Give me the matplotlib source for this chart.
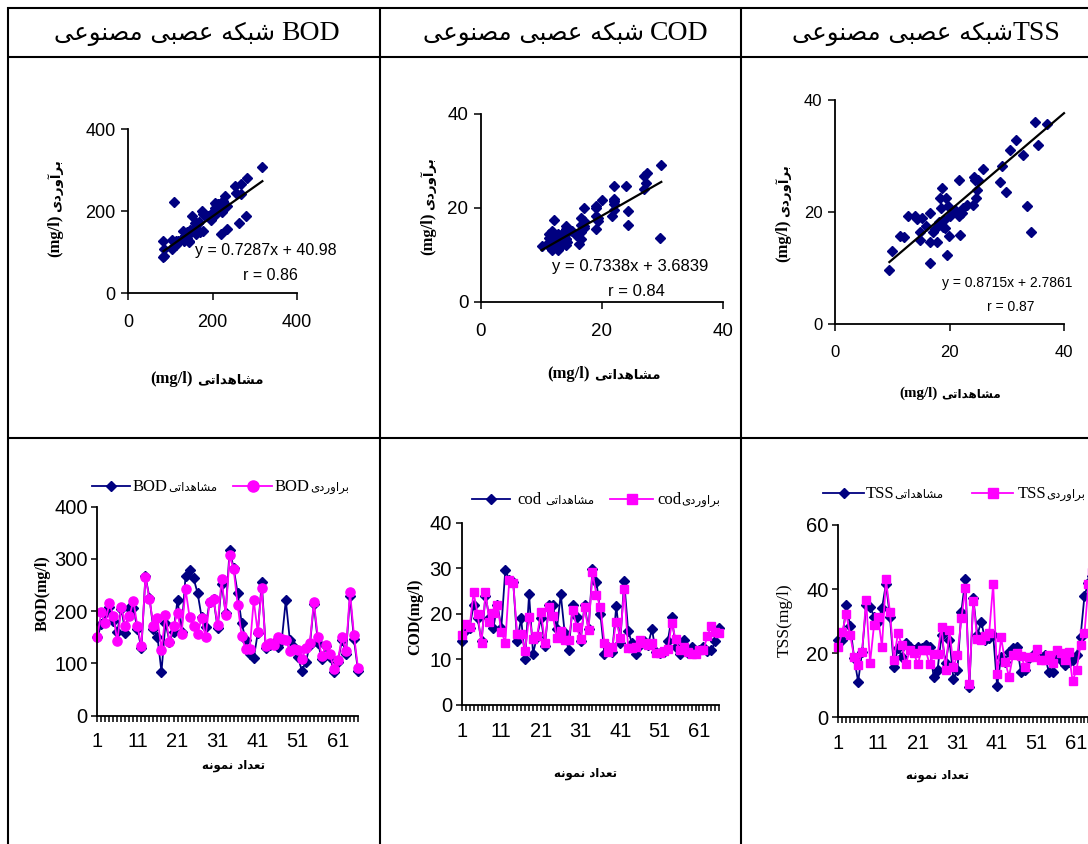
import numpy as np
import matplotlib
matplotlib.use('Agg')
import matplotlib.pyplot as plt
from matplotlib.lines import Line2D

# ---------------- data ----------------
samples = list(range(1, 67))

bod_obs = [150, 175, 197, 208, 181, 161, 205, 159, 207, 207,
           165, 129, 267, 226, 165, 151, 84, 178, 142, 161,
           222, 161, 267, 279, 263, 235, 189, 170, 218, 223,
           167, 253, 197, 318, 282, 234, 177, 145, 119, 110,
           158, 255, 129, 135, 140, 131, 145, 221, 145, 132,
           113, 86, 103, 135, 214, 140, 108, 133, 113, 84,
           103, 145, 119, 229, 146, 86]
bod_est = [151, 199, 177, 216, 190, 143, 208, 171, 190, 220,
           171, 134, 265, 224, 171, 187, 126, 193, 141, 171,
           197, 156, 242, 189, 171, 156, 187, 150, 218, 223,
           173, 262, 193, 307, 280, 212, 152, 127, 127, 221,
           160, 244, 133, 140, 135, 151, 146, 145, 124, 128,
           126, 108, 129, 140, 218, 150, 114, 135, 118, 89,
           107, 150, 124, 237, 154, 91]

cod_obs = [14, 16.5, 17, 22, 19, 14, 24, 19, 17, 22,
           17, 29.6, 27.5, 27, 14, 19, 10, 24.3, 11.3, 15,
           19, 13, 22, 22, 16.6, 24.3, 15.7, 12, 22, 19.4,
           14, 22, 16.6, 29.8, 27, 20, 11.3, 12.8, 11.7, 21.7,
           13.7, 27.2, 16.2, 13.5, 11.3, 13.2, 14, 13.2, 16.6, 11.7,
           11.5, 11.7, 14, 19.3, 12.8, 11.3, 14.2, 11.5, 12.8, 11.7,
           12, 12.8, 11.8, 12, 14, 17]
cod_est = [15.4, 17.8, 17.2, 24.7, 20, 13.5, 24.7, 18.3, 20.1, 22,
           16.1, 13.7, 27.4, 26.8, 15.5, 15.5, 11.9, 19.4, 14.4, 15.1,
           20.5, 13.7, 21.4, 19.5, 14.8, 16.3, 14.2, 14.2, 20.8, 17.2,
           14.4, 21.4, 16.4, 29.1, 24.1, 21.6, 13.7, 11.7, 12.8, 18.3,
           14.8, 25.4, 12.4, 12.4, 12.8, 14.2, 13.5, 13.2, 13.5, 11.5,
           11.5, 11.8, 12.2, 17.9, 14.4, 12, 12.8, 11.7, 11.1, 11.1,
           12, 12, 15.2, 17.4, 16.1, 15.7]

tss_obs = [24.1, 24.1, 35, 28.6, 18.4, 11.1, 20.5, 35, 34.5, 31.4,
           29.8, 34, 41.6, 31.4, 15.8, 21.5, 18.9, 23.1, 22, 21,
           22, 21.5, 22.6, 22, 12.7, 14.8, 25.7, 17, 24.1, 11.9,
           14.8, 33, 43.3, 9.4, 37.1, 25.7, 29.8, 24.1, 24.6, 25.7,
           9.8, 18.9, 17.4, 20.5, 21.5, 22, 14.2, 14.8, 18.4, 19.4,
           20, 18.4, 19.4, 14.2, 14.2, 18.9, 17.9, 16.3, 17.4, 17.9,
           19.5, 25, 38, 42, 44, 40]
tss_est = [21.8, 26.7, 32.2, 25.7, 18.7, 16.3, 20.5, 36.6, 17, 28.8,
           31.4, 22, 43, 33, 17.9, 26.2, 22.6, 16.5, 21, 20.2,
           16.5, 21, 21, 16.5, 19.8, 19.8, 28.3, 14.8, 27.2, 15.8,
           19.4, 30.9, 40.2, 10.4, 36.4, 24.3, 24.1, 25.5, 26.4, 41.6,
           13.5, 24.9, 17.4, 12.7, 19.4, 20.2, 19.1, 15.8, 18.9, 18.9,
           21.2, 17.9, 17.9, 19.4, 17, 21, 20.2, 17.9, 20.5, 11.4,
           14.8, 22.6, 26.2, 41.6, 45.4, 44]

tss_sc_obs = [9.5, 10, 11.4, 12, 12.8, 14, 14.3, 15.2, 14.9, 14.9,
              15.9, 16.6, 16.6, 16.6, 17.2, 17.5, 17.8, 18.2, 18.3, 18.7,
              18.5, 18.8, 19.1, 19.2, 19.4, 19.5, 19.8, 19.9, 20.1, 20.7,
              21, 21.6, 21.7, 21.9, 22.1, 22.4, 23, 24.1, 24.2, 24.5,
              24.7, 24.8, 24.9, 25.9, 28.8, 29.1, 29.8, 30.5, 31.7, 32.8,
              33.6, 34.2, 34.9, 35.5, 37.1]
tss_sc_est = [9.7, 13, 15.7, 15.5, 19.3, 19.3, 18.7, 18.9, 16.5, 15,
              17.5, 19.8, 14.6, 10.9, 16.5, 16.9, 14.6, 18.3, 22.5, 24.2,
              20.7, 17.4, 18.6, 17.1, 22.5, 12.4, 21, 15.7, 19.2, 20.1,
              20.4, 19.2, 25.7, 15.9, 19.8, 20.7, 21.3, 21.3, 26.3, 25.7,
              22.5, 23.9, 25.8, 27.6, 25.4, 28.2, 23.6, 31.1, 32.9, 30.2,
              21.1, 16.5, 36.1, 32, 35.7]

trend_bod = (0.7287, 40.98, 0.86)
trend_cod = (0.7338, 3.6839, 0.84)
trend_tss = (0.8715, 2.7861, 0.87)

# ---------------- Persian shaping (visual order) ----------------
FORMS = {
    'ا': ('\uFE8D', '\uFE8E', None, None),
    'آ': ('\uFE81', '\uFE82', None, None),
    'ب': ('\uFE8F', '\uFE90', '\uFE91', '\uFE92'),
    'ت': ('\uFE95', '\uFE96', '\uFE97', '\uFE98'),
    'د': ('\uFEA9', '\uFEAA', None, None),
    'ر': ('\uFEAD', '\uFEAE', None, None),
    'ش': ('\uFEB5', '\uFEB6', '\uFEB7', '\uFEB8'),
    'ص': ('\uFEB9', '\uFEBA', '\uFEBB', '\uFEBC'),
    'ع': ('\uFEC9', '\uFECA', '\uFECB', '\uFECC'),
    'م': ('\uFEE1', '\uFEE2', '\uFEE3', '\uFEE4'),
    'ن': ('\uFEE5', '\uFEE6', '\uFEE7', '\uFEE8'),
    'ه': ('\uFEE9', '\uFEEA', '\uFEEB', '\uFEEC'),
    'و': ('\uFEED', '\uFEEE', None, None),
    'ک': ('\uFB8E', '\uFB8F', '\uFB90', '\uFB91'),
    'ی': ('\uFBFC', '\uFBFD', '\uFBFE', '\uFBFF'),
}


def rtl(text):
    out = []
    n = len(text)
    for i, ch in enumerate(text):
        f = FORMS.get(ch)
        if f is None:
            out.append(ch)
            continue
        prev = text[i - 1] if i > 0 else None
        nxt = text[i + 1] if i < n - 1 else None
        jp = prev in FORMS and FORMS[prev][2] is not None
        jn = nxt in FORMS and f[2] is not None
        if jp and jn:
            out.append(f[3])
        elif jp:
            out.append(f[1])
        elif jn:
            out.append(f[2])
        else:
            out.append(f[0])
    return ''.join(out)[::-1]


NN = 'شبکه عصبی مصنوعی'
OBS = 'مشاهداتی'
EST = 'براوردی'
EST2 = 'برآوردی'
NSAMP = 'تعداد نمونه'

# ---------------- figure ----------------
W, H = 1088, 844
fig = plt.figure(figsize=(W / 100, H / 100), dpi=100)
fig.patch.set_facecolor('white')
renderer = fig.canvas.get_renderer()

NAVY = '#000080'
MAG = '#FF00FF'
SERIF = ['Liberation Serif', 'DejaVu Sans']
SANS = ['Liberation Sans', 'DejaVu Sans']
AR = ['DejaVu Sans']


def fx(x):
    return x / W


def fy(y):
    return 1 - y / H


def rect(x0, y0, x1, y1):
    return [x0 / W, 1 - y1 / H, (x1 - x0) / W, (y1 - y0) / H]


def hline(x0, x1, y, lw=1.5, color='black'):
    fig.add_artist(Line2D([fx(x0), fx(x1)], [fy(y), fy(y)], color=color, lw=lw,
                          transform=fig.transFigure, solid_capstyle='butt'))


def vline(x, y0, y1, lw=1.5):
    fig.add_artist(Line2D([fx(x), fx(x)], [fy(y0), fy(y1)], color='black', lw=lw,
                          transform=fig.transFigure, solid_capstyle='butt'))


def text_run(x, y, parts, rotation=0, gap=3, anchor='center'):
    """Place several text pieces in a row (left-to-right visual order).
    For rotation=90 the row runs bottom-to-top."""
    texts, sizes = [], []
    for s, kw in parts:
        if rotation == 0:
            t = fig.text(0, 0, s, ha='left', va='baseline', **kw)
        else:
            t = fig.text(0, 0, s, ha='center', va='bottom', rotation=90, **kw)
        bb = t.get_window_extent(renderer)
        sizes.append(bb.width if rotation == 0 else bb.height)
        texts.append(t)
    total = sum(sizes) + gap * (len(parts) - 1)
    off = -total / 2 if anchor == 'center' else 0
    for t, w in zip(texts, sizes):
        if rotation == 0:
            t.set_position((fx(x + off), fy(y)))
        else:
            t.set_position((fx(x), fy(y - off)))
        off += w + gap
    return texts


# table grid
hline(7, W, 8)
hline(7, W, 57)
hline(7, W, 438)
vline(8, 7, H)
vline(380, 7, H)
vline(741, 7, H)

# headers
HDR_AR = dict(fontsize=17.5, family=AR)
text_run(197, 40, [(rtl(NN), HDR_AR), ('BOD', dict(fontsize=20, family=SERIF))], gap=6)
text_run(566, 40, [(rtl(NN), HDR_AR), ('COD', dict(fontsize=20, family=SERIF))], gap=6)
text_run(926, 40, [(rtl(NN), HDR_AR), ('TSS', dict(fontsize=20, family=SERIF))], gap=0)


def style_axes(ax, labelsize, xpad, ypad, ticklen=4.5):
    for s in ('top', 'right'):
        ax.spines[s].set_visible(False)
    for s in ('left', 'bottom'):
        ax.spines[s].set_linewidth(1.3)
    ax.tick_params(axis='both', direction='out', length=ticklen, width=1.1, labelsize=labelsize)
    ax.tick_params(axis='x', pad=xpad)
    ax.tick_params(axis='y', pad=ypad)
    for lab in ax.get_xticklabels() + ax.get_yticklabels():
        lab.set_family(SANS)
    ax.patch.set_alpha(0)


def scatter_panel(px, obs, est, trend, lim, ticks, labelsize, xline_end=None):
    ax = fig.add_axes(rect(*px))
    ax.plot(obs, est, linestyle='none', marker='D', ms=4.9, color=NAVY, mec=NAVY, clip_on=False)
    a, b, r = trend
    x0 = min(obs)
    x1 = max(obs) if xline_end is None else xline_end
    xs = np.array([x0, x1])
    ax.plot(xs, a * xs + b, color='black', lw=1.6, clip_on=False)
    ax.set_xlim(0, lim)
    ax.set_ylim(0, lim)
    ax.set_xticks(ticks)
    ax.set_yticks(ticks)
    style_axes(ax, labelsize, xpad=10, ypad=4, ticklen=5)
    return ax


# ---- scatter panels ----
scatter_panel((128, 129, 297, 293), bod_obs, bod_est, trend_bod, 400, [0, 200, 400], 13)
scatter_panel((481, 114, 723, 302), cod_obs, cod_est, trend_cod, 40, [0, 20, 40], 13.5)
scatter_panel((835, 100, 1064, 324), tss_sc_obs, tss_sc_est, trend_tss, 40, [0, 20, 40], 12,
              xline_end=40)

fig.text(fx(195), fy(251), 'y = %.4fx + %.2f' % trend_bod[:2], fontsize=11.5, family=SANS, va='center')
fig.text(fx(243), fy(276), 'r = %.2f' % trend_bod[2], fontsize=11.5, family=SANS, va='center')
fig.text(fx(552), fy(267), 'y = %.4fx + %.4f' % trend_cod[:2], fontsize=12, family=SANS, va='center')
fig.text(fx(608), fy(292), 'r = %.2f' % trend_cod[2], fontsize=12, family=SANS, va='center')
fig.text(fx(942), fy(283), 'y = %.4fx + %.4f' % trend_tss[:2], fontsize=10, family=SANS, va='center')
fig.text(fx(987), fy(307), 'r = %.2f' % trend_tss[2], fontsize=10, family=SANS, va='center')

LAT_B = dict(fontsize=12, fontweight='bold', family=SERIF)
AR_B = dict(fontsize=9.5, fontweight='bold', family=AR)
for (x, y) in [(55, 208), (428, 206), (783, 213)]:
    text_run(x, y, [('(mg/l)', LAT_B), (rtl(EST2), AR_B)], rotation=90, gap=2)
for (x, y, s) in [(207, 383, 1.0), (604, 378, 1.0), (950, 397, 0.9)]:
    text_run(x, y, [('(mg/l)', dict(LAT_B, fontsize=12 * s)),
                    (rtl(OBS), dict(AR_B, fontsize=9.5 * s))], gap=4)


# ---- time-series panels ----
def ts_panel(px, obs, est, est_marker, est_ms, ymax, yticks, labelsize):
    ax = fig.add_axes(rect(*px))
    ax.plot(samples, obs, color=NAVY, lw=1.3, marker='D', ms=4.8, mec=NAVY, mfc=NAVY, clip_on=False)
    ax.plot(samples, est, color=MAG, lw=1.3, marker=est_marker, ms=est_ms, mec=MAG, mfc=MAG, clip_on=False)
    ax.set_xlim(1, len(samples))
    ax.set_ylim(0, ymax)
    ax.set_yticks(yticks)
    ax.set_xticks(samples)
    ax.set_xticklabels([str(s) if (s - 1) % 10 == 0 else '' for s in samples])
    style_axes(ax, labelsize, xpad=8, ypad=3, ticklen=4)
    return ax


ts_panel((97.3, 506.7, 358, 715.7), bod_obs, bod_est, 'o', 6.6, 400, [0, 100, 200, 300, 400], 14.5)
ts_panel((461.7, 522.7, 719.3, 705), cod_obs, cod_est, 's', 6.2, 40, [0, 10, 20, 30, 40], 14.5)
ts_panel((838.3, 525, 1096.4, 717.3), tss_obs, tss_est, 's', 6.2, 60, [0, 20, 40, 60], 14.5)

fig.text(fx(43), fy(593), 'BOD(mg/l)', rotation=90, ha='center', va='center', fontsize=11.5,
         fontweight='bold', family=SERIF)
fig.text(fx(415), fy(617), 'COD(mg/l)', rotation=90, ha='center', va='center', fontsize=11.5,
         fontweight='bold', family=SERIF)
fig.text(fx(785), fy(620), 'TSS(mg/l)', rotation=90, ha='center', va='center', fontsize=12.5,
         family=SERIF)

for (x, y) in [(234, 765), (586, 773), (937, 775)]:
    fig.text(fx(x), fy(y), rtl(NSAMP), ha='center', va='center', fontsize=8.5, fontweight='bold',
             family=AR)


# ---- legends ----
def legend_item(x0, x1, y, color, marker, ms, latin, arabic, tx, gap=0):
    fig.add_artist(Line2D([fx(x0), fx(x1)], [fy(y), fy(y)], color=color, lw=1.3,
                          transform=fig.transFigure))
    fig.add_artist(Line2D([fx((x0 + x1) / 2)], [fy(y)], color=color, marker=marker, ms=ms,
                          mec=color, mfc=color, linestyle='none', transform=fig.transFigure))
    text_run(tx, y + 5, [(latin, dict(fontsize=12, family=SERIF)),
                         (arabic, dict(fontsize=8.5, family=AR))], gap=gap, anchor='left')


legend_item(92, 130, 486, NAVY, 'D', 5.5, 'BOD', rtl(OBS), 133)
legend_item(233, 272, 486, MAG, 'o', 8, 'BOD', rtl(EST), 275)
legend_item(472, 510, 499, NAVY, 'D', 5.5, 'cod', rtl(OBS), 517, gap=4)
legend_item(610, 653, 499, MAG, 's', 7.5, 'cod', rtl(EST), 657)
legend_item(823, 864, 493, NAVY, 'D', 5.5, 'TSS', rtl(OBS), 866)
legend_item(972, 1013, 493, MAG, 's', 7.5, 'TSS', rtl(EST), 1018)

fig.savefig('out.png', dpi=100, facecolor='white')
